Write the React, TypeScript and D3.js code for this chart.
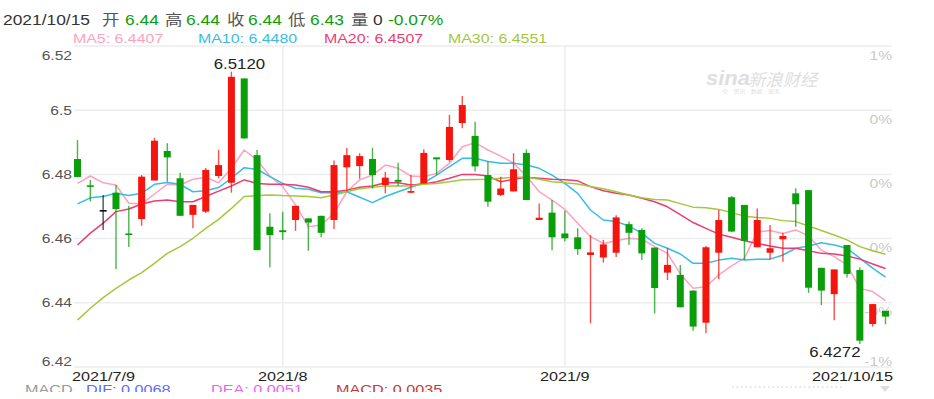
import React from "react";
import * as d3 from "d3";

// ---------- data ----------
const dates: string[] = [
  "2021/7/9", "2021/7/12", "2021/7/13", "2021/7/14", "2021/7/15", "2021/7/16",
  "2021/7/19", "2021/7/20", "2021/7/21", "2021/7/22", "2021/7/23",
  "2021/7/26", "2021/7/27", "2021/7/28", "2021/7/29", "2021/7/30",
  "2021/8/2", "2021/8/3", "2021/8/4", "2021/8/5", "2021/8/6",
  "2021/8/9", "2021/8/10", "2021/8/11", "2021/8/12", "2021/8/13",
  "2021/8/16", "2021/8/17", "2021/8/18", "2021/8/19", "2021/8/20",
  "2021/8/23", "2021/8/24", "2021/8/25", "2021/8/26", "2021/8/27",
  "2021/8/30", "2021/8/31",
  "2021/9/1", "2021/9/2", "2021/9/3",
  "2021/9/6", "2021/9/7", "2021/9/8", "2021/9/9", "2021/9/10",
  "2021/9/13", "2021/9/14", "2021/9/15", "2021/9/16", "2021/9/17",
  "2021/9/22", "2021/9/23", "2021/9/24",
  "2021/9/27", "2021/9/28", "2021/9/29", "2021/9/30",
  "2021/10/8", "2021/10/11", "2021/10/12", "2021/10/13", "2021/10/14", "2021/10/15",
];

const opens: number[] = [
  6.4848, 6.4766, 6.4689, 6.4743, 6.4616, 6.4661, 6.4781, 6.4873, 6.4788, 6.4674,
  6.4684, 6.4795, 6.4774, 6.5099, 6.4860, 6.4637, 6.4626, 6.4658, 6.4663, 6.4671,
  6.4658, 6.4822, 6.4826, 6.4848, 6.4767, 6.4783, 6.4743, 6.4772, 6.4853, 6.4845,
  6.4960, 6.4920, 6.4798, 6.4736, 6.4747, 6.4867, 6.4658, 6.4681, 6.4616, 6.4604,
  6.4549, 6.4541, 6.4556, 6.4645, 6.4627, 6.4572, 6.4494, 6.4487, 6.4438, 6.4338,
  6.4556, 6.4729, 6.4705, 6.4573, 6.4556, 6.4598, 6.4741, 6.4751, 6.4509, 6.4427,
  6.4580, 6.4502, 6.4334, 6.4375,
];
const highs: number[] = [
  6.4907, 6.4783, 6.4736, 6.4767, 6.4702, 6.4798, 6.4914, 6.4897, 6.4805, 6.4705,
  6.4820, 6.4876, 6.5120, 6.5099, 6.4876, 6.4679, 6.4684, 6.4702, 6.4663, 6.4671,
  6.4843, 6.4883, 6.4866, 6.4883, 6.4808, 6.4836, 6.4798, 6.4878, 6.4853, 6.4985,
  6.5044, 6.4964, 6.4840, 6.4793, 6.4866, 6.4878, 6.4709, 6.4720, 6.4687, 6.4632,
  6.4611, 6.4596, 6.4673, 6.4653, 6.4632, 6.4572, 6.4570, 6.4518, 6.4438, 6.4577,
  6.4689, 6.4733, 6.4705, 6.4694, 6.4642, 6.4618, 6.4757, 6.4751, 6.4509, 6.4504,
  6.4580, 6.4511, 6.4396, 6.4375,
];
const lows: number[] = [
  6.4792, 6.4716, 6.4627, 6.4505, 6.4574, 6.4640, 6.4781, 6.4777, 6.4671, 6.4632,
  6.4680, 6.4788, 6.4743, 6.4912, 6.4564, 6.4510, 6.4596, 6.4624, 6.4562, 6.4604,
  6.4630, 6.4747, 6.4786, 6.4756, 6.4741, 6.4764, 6.4741, 6.4772, 6.4798, 6.4839,
  6.4944, 6.4809, 6.4699, 6.4733, 6.4747, 6.4720, 6.4658, 6.4564, 6.4591, 6.4549,
  6.4336, 6.4525, 6.4543, 6.4580, 6.4533, 6.4367, 6.4471, 6.4386, 6.4313, 6.4305,
  6.4473, 6.4620, 6.4533, 6.4573, 6.4535, 6.4528, 6.4637, 6.4431, 6.4393, 6.4346,
  6.4479, 6.4272, 6.4326, 6.4333,
];
const closes: number[] = [
  6.4792, 6.4764, 6.4689, 6.4692, 6.4612, 6.4793, 6.4905, 6.4853, 6.4671, 6.4705,
  6.4814, 6.4829, 6.5104, 6.4912, 6.4564, 6.4611, 6.4620, 6.4702, 6.4650, 6.4618,
  6.4829, 6.4860, 6.4857, 6.4798, 6.4790, 6.4777, 6.4748, 6.4867, 6.4847, 6.4948,
  6.5016, 6.4825, 6.4715, 6.4756, 6.4816, 6.4720, 6.4665, 6.4604, 6.4601, 6.4567,
  6.4557, 6.4582, 6.4666, 6.4618, 6.4554, 6.4446, 6.4518, 6.4386, 6.4326, 6.4573,
  6.4658, 6.4622, 6.4593, 6.4658, 6.4570, 6.4608, 6.4707, 6.4447, 6.4438, 6.4504,
  6.4490, 6.4282, 6.4396, 6.4357,
];

const ma5: number[] = [
  6.4772, 6.4795, 6.4774, 6.4767, 6.4710, 6.4708, 6.4739, 6.4769, 6.4767, 6.4785,
  6.4791, 6.4774, 6.4819, 6.4876, 6.4845, 6.4795, 6.4762, 6.4705, 6.4637, 6.4642,
  6.4679, 6.4746, 6.4783, 6.4798, 6.4829, 6.4819, 6.4795, 6.4793, 6.4803, 6.4835,
  6.4886, 6.4899, 6.4876, 6.4857, 6.4835, 6.4795, 6.4746, 6.4720, 6.4691, 6.4648,
  6.4606, 6.4585, 6.4593, 6.4601, 6.4598, 6.4575, 6.4554, 6.4490, 6.4445, 6.4450,
  6.4487, 6.4515, 6.4539, 6.4621, 6.4625, 6.4616, 6.4627, 6.4608, 6.4564, 6.4544,
  6.4518, 6.4445, 6.4435, 6.4407,
];
const ma10: number[] = [
  6.4708, 6.4727, 6.4731, 6.4741, 6.4734, 6.4741, 6.4769, 6.4775, 6.4769, 6.4746,
  6.4749, 6.4759, 6.4788, 6.4821, 6.4816, 6.4793, 6.4772, 6.4757, 6.4754, 6.4743,
  6.4743, 6.4746, 6.4729, 6.4712, 6.4731, 6.4746, 6.4760, 6.4774, 6.4798, 6.4824,
  6.4850, 6.4850, 6.4840, 6.4835, 6.4835, 6.4829, 6.4819, 6.4798, 6.4772, 6.4741,
  6.4689, 6.4658, 6.4653, 6.4639, 6.4617, 6.4585, 6.4570, 6.4552, 6.4523, 6.4523,
  6.4533, 6.4539, 6.4533, 6.4536, 6.4536, 6.4549, 6.4570, 6.4577, 6.4587, 6.4580,
  6.4570, 6.4539, 6.4508, 6.4480,
];
const ma20: number[] = [
  6.4580, 6.4617, 6.4648, 6.4684, 6.4692, 6.4708, 6.4717, 6.4720, 6.4715, 6.4715,
  6.4731, 6.4748, 6.4764, 6.4783, 6.4772, 6.4769, 6.4769, 6.4767, 6.4760, 6.4746,
  6.4746, 6.4751, 6.4760, 6.4764, 6.4774, 6.4774, 6.4767, 6.4770, 6.4777, 6.4788,
  6.4800, 6.4800, 6.4795, 6.4777, 6.4785, 6.4791, 6.4788, 6.4785, 6.4783, 6.4780,
  6.4762, 6.4749, 6.4741, 6.4736, 6.4726, 6.4715, 6.4699, 6.4675, 6.4650, 6.4632,
  6.4614, 6.4604, 6.4593, 6.4585, 6.4577, 6.4570, 6.4570, 6.4562, 6.4554, 6.4552,
  6.4546, 6.4536, 6.4521, 6.4507,
];
const ma30: number[] = [
  6.4346, 6.4383, 6.4416, 6.4445, 6.4471, 6.4494, 6.4523, 6.4554, 6.4575, 6.4601,
  6.4632, 6.4660, 6.4694, 6.4731, 6.4734, 6.4736, 6.4734, 6.4733, 6.4731, 6.4727,
  6.4736, 6.4746, 6.4755, 6.4760, 6.4764, 6.4764, 6.4764, 6.4769, 6.4772, 6.4777,
  6.4783, 6.4784, 6.4785, 6.4788, 6.4791, 6.4791, 6.4785, 6.4777, 6.4774, 6.4770,
  6.4762, 6.4755, 6.4746, 6.4736, 6.4727, 6.4722, 6.4720, 6.4709, 6.4698, 6.4696,
  6.4691, 6.4681, 6.4670, 6.4666, 6.4663, 6.4656, 6.4653, 6.4639, 6.4625, 6.4611,
  6.4596, 6.4575, 6.4562, 6.4551,
];

const yTicks: number[] = [6.52, 6.5, 6.48, 6.46, 6.44, 6.42];
const yTickLabels: string[] = ["6.52", "6.5", "6.48", "6.46", "6.44", "6.42"];
const pctLabels: string[] = ["1%", "0%", "0%", "0%", "-0%", "-1%"];
const xTickDates: string[] = ["2021/7/9", "2021/8/2", "2021/9/1", "2021/10/15"];
const xTickLabels: string[] = ["2021/7/9", "2021/8", "2021/9", "2021/10/15"];

const maNames: string[] = ["MA5", "MA10", "MA20", "MA30"];
const maLatest: string[] = ["6.4407", "6.4480", "6.4507", "6.4551"];
const changePct = "-0.07%";
const volume = "0";

// ---------- style ----------
const W = 934;
const H = 399;
const RED = "#f4150e";
const GREEN = "#0a9f0a";
const MA_COLORS = ["#ffa2c0", "#38bce3", "#ec3c72", "#a3c83a"];
const GRID = "#ededed";
const FONT = "'Liberation Sans', Arial, 'Noto Sans CJK SC', sans-serif";
const SX = 1.2;

function T(props: {
  x: number; y: number; children: any; size?: number; fill?: string;
  anchor?: "start" | "middle" | "end"; sx?: number; style?: any; weight?: any;
}) {
  const { x, y, children, size = 13, fill = "#555", anchor = "start", sx = SX, style, weight } = props;
  return (
    <text
      transform={`translate(${x},${y}) scale(${sx},1)`}
      fontSize={size}
      fill={fill}
      textAnchor={anchor}
      fontFamily={FONT}
      fontWeight={weight}
      style={style}
    >
      {children}
    </text>
  );
}

export default function App() {
  const x = d3.scalePoint<string>().domain(dates).range([77.5, 885.5]);
  const y = d3.scaleLinear().domain([6.42, 6.52]).range([367, 46]);
  const plotLeft = 74;
  const plotRight = 892;
  const bodyW = 7;
  const last = dates.length - 1;
  const f2 = d3.format(".2f");

  const line = d3
    .line<number>()
    .x((_, i) => x(dates[i]) as number)
    .y((v) => y(v));
  const maSeries = [ma5, ma10, ma20, ma30];

  const hiIdx = highs.indexOf(d3.max(highs) as number);
  const loIdx = lows.indexOf(d3.min(lows) as number);

  const title: { t: string; x: number; c: string }[] = [
    { t: dates[last], x: 3, c: "#333" },
    { t: "开", x: 102, c: "#555" },
    { t: f2(opens[last]), x: 125, c: GREEN },
    { t: "高", x: 165, c: "#555" },
    { t: f2(highs[last]), x: 186, c: GREEN },
    { t: "收", x: 227, c: "#555" },
    { t: f2(closes[last]), x: 248, c: GREEN },
    { t: "低", x: 288, c: "#555" },
    { t: f2(lows[last]), x: 310, c: GREEN },
    { t: "量", x: 351, c: "#555" },
    { t: volume, x: 373, c: "#333" },
    { t: changePct, x: 388, c: GREEN },
  ];
  const maLegendX = [73, 198, 324, 448];

  return (
    <svg
      width={W}
      height={H}
      style={{ position: "absolute", left: 0, top: 0, background: "#fff" }}
    >
      <defs>
        <clipPath id="macdClip">
          <rect x={0} y={0} width={W} height={392} />
        </clipPath>
      </defs>
      <rect x={0} y={0} width={W} height={H} fill="#fff" />

      {/* horizontal grid */}
      {yTicks.map((v, i) => (
        <line key={"g" + i} x1={plotLeft} x2={plotRight} y1={y(v)} y2={y(v)} stroke={GRID} strokeWidth={1.5} />
      ))}
      {/* vertical grid at month starts */}
      {xTickDates.slice(1, 3).map((d, i) => (
        <line key={"v" + i} x1={x(d)} x2={x(d)} y1={y(6.52)} y2={y(6.42)} stroke={GRID} strokeWidth={1.5} />
      ))}

      {/* watermark */}
      <g opacity={0.9}>
        <T x={706} y={85} size={20} fill="#dcdcdc" sx={1.1} weight="bold" style={{ fontStyle: "italic" }}>sina</T>
        <T x={748} y={86} size={17} fill="#dcdcdc" sx={1.02} style={{ fontStyle: "italic" }}>新浪财经</T>
        <T x={722} y={93} size={5} fill="#dcdcdc" sx={1.2}>全 · 资讯 · 数据 · 服务</T>
      </g>

      {/* right percent labels */}
      {yTicks.map((v, i) => (
        <T key={"p" + i} x={892} y={i === yTicks.length - 1 ? y(v) - 1.5 : y(v) + 13.5} size={13} fill="#c9c9c9" anchor="end">
          {pctLabels[i]}
        </T>
      ))}

      {/* left y labels */}
      {yTicks.map((v, i) => (
        <T key={"y" + i} x={72} y={i === 0 ? y(v) + 13.5 : i === yTicks.length - 1 ? y(v) - 1.5 : y(v) + 4.5} size={13} fill="#555" anchor="end">
          {yTickLabels[i]}
        </T>
      ))}

      {/* x labels */}
      {xTickDates.map((d, i) => {
        const px = x(d) as number;
        const anchor = i === 0 ? "start" : i === xTickDates.length - 1 ? "end" : "middle";
        const ax = i === 0 ? px - 5.5 : i === xTickDates.length - 1 ? px + 7.5 : px;
        return (
          <T key={"x" + i} x={ax} y={380.5} size={13.5} fill="#222" anchor={anchor as any}>
            {xTickLabels[i]}
          </T>
        );
      })}

      {/* MA lines */}
      {maSeries.map((s, k) => (
        <path key={"ma" + k} d={line(s) as string} fill="none" stroke={MA_COLORS[k]} strokeWidth={1.5} strokeLinejoin="round" />
      ))}

      {/* candles */}
      {dates.map((d, i) => {
        const o = opens[i], c = closes[i], h = highs[i], l = lows[i];
        const col = c > o ? RED : c < o ? GREEN : "#111";
        const cx = x(d) as number;
        const top = y(Math.max(o, c));
        const bh = Math.max(1.6, Math.abs(y(o) - y(c)));
        return (
          <g key={"c" + i}>
            <line x1={cx} x2={cx} y1={y(h)} y2={y(l)} stroke={col} strokeWidth={1.4} strokeOpacity={0.75} />
            <rect x={cx - bodyW / 2} y={top} width={bodyW} height={bh} fill={col} />
          </g>
        );
      })}

      {/* extreme labels */}
      <T x={(x(dates[hiIdx]) as number) + 8} y={y(highs[hiIdx]) - 3} size={14} fill="#222" anchor="middle">
        {d3.format(".4f")(highs[hiIdx])}
      </T>
      <T x={(x(dates[loIdx]) as number) - 25} y={y(lows[loIdx]) + 13.5} size={14} fill="#222" anchor="middle">
        {d3.format(".4f")(lows[loIdx])}
      </T>

      {/* title */}
      {title.map((t, i) => (
        <T key={"t" + i} x={t.x} y={25} size={15} fill={t.c} sx={1.16}>{t.t}</T>
      ))}

      {/* MA legend */}
      {maNames.map((n, i) => (
        <T key={"l" + i} x={maLegendX[i]} y={42.5} size={13.5} fill={MA_COLORS[i]} sx={1.18}>
          {`${n}: ${maLatest[i]}`}
        </T>
      ))}

      {/* MACD header, cut off by the bottom */}
      <g clipPath="url(#macdClip)">
        <T x={25} y={394} size={13.5} fill="#999">MACD</T>
        <T x={86} y={394} size={13.5} fill="#5b6cff">DIF: 0.0068</T>
        <T x={211} y={394} size={13.5} fill="#f062f0">DEA: 0.0051</T>
        <T x={336} y={394} size={13.5} fill="#c03a3a">MACD: 0.0035</T>
      </g>
      <line x1={732} x2={842} y1={387} y2={387} stroke="#dddddd" strokeWidth={1.5} strokeDasharray="1.5,3" />
      <path d="M880,386 L890,386 L885,392 Z" fill="#dddddd" />
    </svg>
  );
}
